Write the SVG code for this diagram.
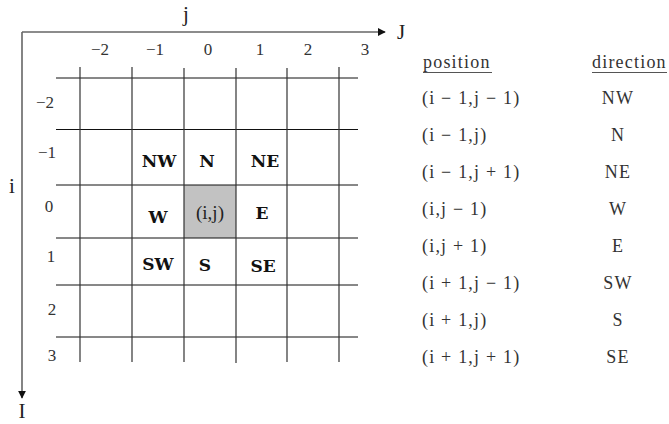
<svg xmlns="http://www.w3.org/2000/svg" width="669" height="424" viewBox="0 0 669 424">
<style>
.t{font-family:"Liberation Serif","Times New Roman",serif;fill:#222}
.ax{font-size:21px}
.lab{font-size:17px;text-anchor:middle;fill:#333}
.b{font-family:"DejaVu Serif","Liberation Serif",serif;font-weight:bold;font-size:17px;text-anchor:middle;fill:#111}
.tb{font-size:18px;letter-spacing:1.2px;fill:#333}
.dir{text-anchor:middle}
.g{stroke:#111;stroke-width:1;fill:none}
.gv{stroke:#333;stroke-width:1.2;fill:none}
.axis{stroke:#666;stroke-width:1.6;fill:none}
.ul{stroke:#555;stroke-width:1}
</style>
<defs>
<marker id="ah" viewBox="0 0 10 10" refX="9" refY="5" markerWidth="8" markerHeight="8" markerUnits="userSpaceOnUse" orient="auto">
<path d="M0,0 L10,5 L0,10 Z" fill="#111"/>
</marker>
</defs>
<rect width="669" height="424" fill="#fff"/>

<g id="axes">
<line class="axis" x1="22" y1="32" x2="385" y2="32" marker-end="url(#ah)"/>
<line class="axis" x1="22" y1="32" x2="22" y2="398" marker-end="url(#ah)"/>
<text class="t ax" x="186" y="21" text-anchor="middle">j</text>
<text class="t ax" x="401" y="39" text-anchor="middle" font-size="23">J</text>
<text class="t ax" x="12" y="193" text-anchor="middle">i</text>
<text class="t" x="22" y="418" text-anchor="middle" style="font-size:21px">I</text>
</g>

<g id="grid">
<rect id="center-cell" x="184" y="185" width="52" height="53" fill="#c2c2c2"/>
<g class="g">
<line x1="56" y1="78" x2="358" y2="78"/>
<line x1="56" y1="129.5" x2="358" y2="129.5"/>
<line x1="56" y1="185" x2="358" y2="185"/>
<line x1="56" y1="238" x2="358" y2="238"/>
<line x1="56" y1="285" x2="358" y2="285"/>
<line x1="56" y1="337" x2="358" y2="337"/>
</g>
<g class="gv">
<line x1="80" y1="67" x2="80" y2="362"/>
<line x1="132" y1="67" x2="132" y2="362"/>
<line x1="184" y1="68" x2="184" y2="362"/>
<line x1="236" y1="68" x2="236" y2="363"/>
<line x1="287" y1="68" x2="287" y2="362"/>
<line x1="339" y1="67" x2="339" y2="362"/>
</g>
</g>

<g id="col-labels" class="t lab">
<text x="100" y="55">−2</text>
<text x="155" y="55">−1</text>
<text x="208" y="55">0</text>
<text x="260" y="55">1</text>
<text x="308" y="55">2</text>
<text x="365" y="55">3</text>
</g>
<g id="row-labels" class="t lab">
<text x="45" y="108">−2</text>
<text x="47" y="158">−1</text>
<text x="49" y="212">0</text>
<text x="51" y="262">1</text>
<text x="52" y="315">2</text>
<text x="52" y="361">3</text>
</g>

<g id="node-NW"><text class="b" x="159" y="167">NW</text></g>
<g id="node-N"><text class="b" x="207" y="167">N</text></g>
<g id="node-NE"><text class="b" x="265" y="167">NE</text></g>
<g id="node-W"><text class="b" x="158" y="223">W</text></g>
<g id="node-center"><text class="t" x="210" y="219" text-anchor="middle" font-size="19" fill="#333">(i,j)</text></g>
<g id="node-E"><text class="b" x="262" y="219">E</text></g>
<g id="node-SW"><text class="b" x="158" y="270">SW</text></g>
<g id="node-S"><text class="b" x="205" y="271">S</text></g>
<g id="node-SE"><text class="b" x="263" y="272">SE</text></g>

<g id="table">
<text class="t tb" x="423" y="68">position</text>
<line class="ul" x1="423" y1="72.5" x2="492" y2="72.5"/>
<text class="t tb" x="592" y="68">direction</text>
<line class="ul" x1="592" y1="72.5" x2="667" y2="72.5"/>
<g class="t tb">
<text x="422" y="104">(i − 1,j − 1)</text>
<text x="422" y="141">(i − 1,j)</text>
<text x="422" y="178">(i − 1,j + 1)</text>
<text x="422" y="215">(i,j − 1)</text>
<text x="422" y="252">(i,j + 1)</text>
<text x="422" y="289">(i + 1,j − 1)</text>
<text x="422" y="326">(i + 1,j)</text>
<text x="422" y="363">(i + 1,j + 1)</text>
</g>
<g class="t tb dir">
<text x="618" y="104">NW</text>
<text x="618" y="141">N</text>
<text x="618" y="178">NE</text>
<text x="618" y="215">W</text>
<text x="618" y="252">E</text>
<text x="618" y="289">SW</text>
<text x="618" y="326">S</text>
<text x="618" y="363">SE</text>
</g>
</g>
</svg>
